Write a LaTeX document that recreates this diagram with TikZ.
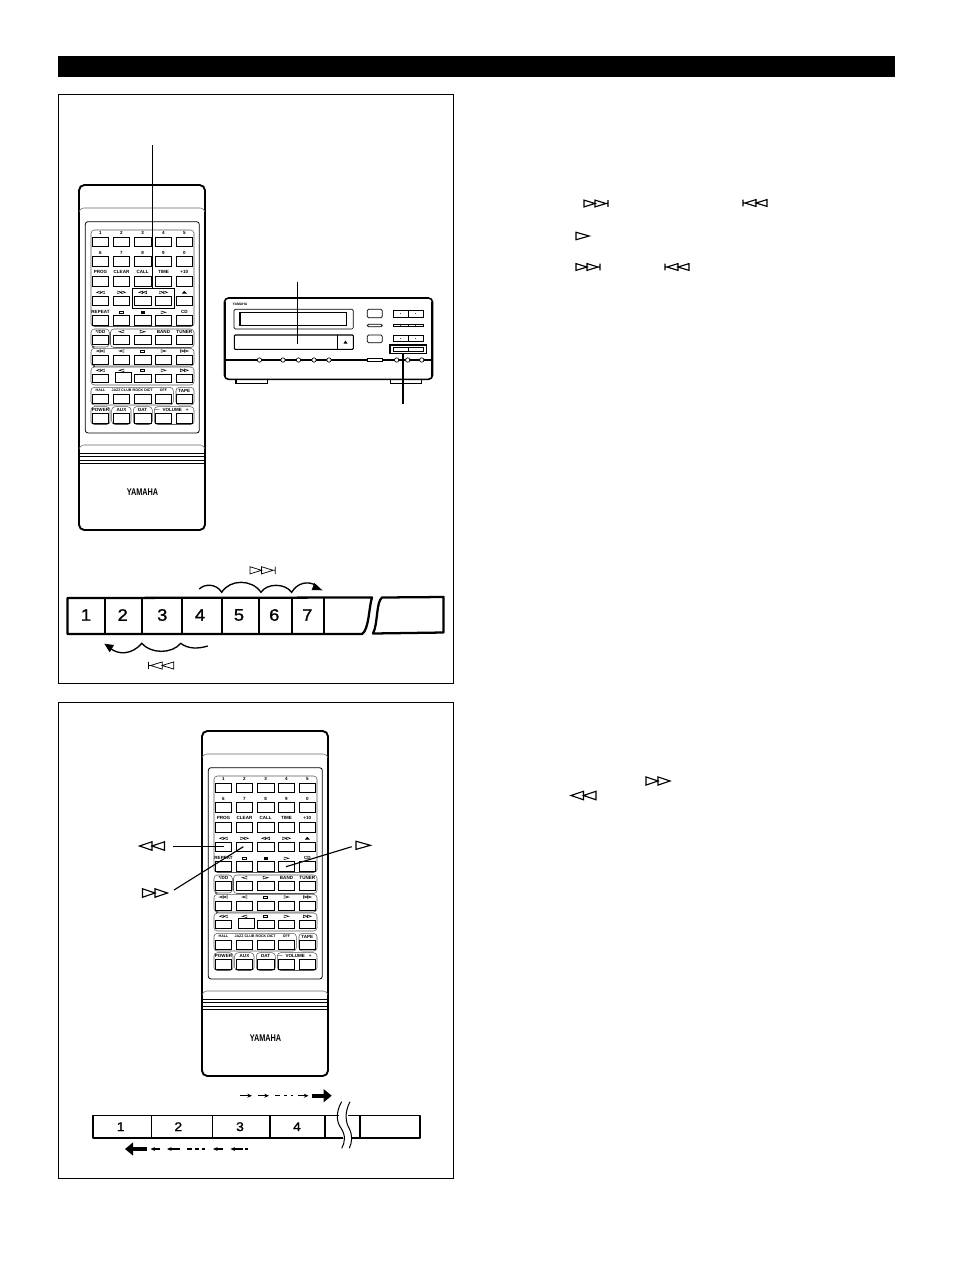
\documentclass[tikz,border=0pt]{standalone}
\usepackage{fontspec}
\setmainfont{Liberation Sans}
\newfontfamily\numfont[FakeBold=1.2]{Liberation Sans}
\usetikzlibrary{arrows.meta,calc}
\tikzset{
 x=0.75pt,y=-0.75pt,
 frame/.style={draw=black,line width=0.6pt},
 btn/.style={draw=black,line width=0.7pt,fill=white},
 lbl/.style={font=\fontsize{3.4}{4}\selectfont\bfseries,inner sep=0pt},
 lblsm/.style={font=\fontsize{2.7}{3}\selectfont\bfseries,inner sep=0pt},
 grp/.style={draw=black!65,line width=0.4pt,rounded corners=2.5pt},
 leader/.style={draw=black,line width=0.85pt},
 cell/.style={draw=black,line width=1.7pt},
 cellb/.style={draw=black,line width=1.2pt},
 cellc/.style={draw=black,line width=1pt},
 num/.style={font=\fontsize{12.5}{14}\numfont\selectfont,inner sep=0pt,xscale=1.1},
 numb/.style={font=\fontsize{9.5}{11}\numfont\selectfont,inner sep=0pt,xscale=1.1},
 sym/.style={draw=black,line width=0.85pt,line join=miter},
 wave/.style={draw=black,line width=1pt},
 mini/.style={line width=0.8pt,draw=black,-{Stealth[length=3.5pt,width=3pt]}},
 bigarr/.style={draw=black,line width=3pt,-{Triangle[length=6pt,width=9.5pt]}},
}
\newcommand{\symFF}[3]{\draw[sym,shift={(#1,#2)},scale=#3] (0,-3.4)--(10,0)--(0,3.4)--cycle (10,-3.4)--(20,0)--(10,3.4)--cycle;}
\newcommand{\symNext}[3]{\draw[sym,shift={(#1,#2)},scale=#3] (0,-3.4)--(11,0)--(0,3.4)--cycle (11,-3.4)--(22,0)--(11,3.4)--cycle (24,-3.4)--(24,3.4) (22,0)--(24,0);}
\newcommand{\symPrev}[3]{\draw[sym,shift={(#1,#2)},scale=#3] (0,-3.4)--(0,3.4) (2,0)--(0,0) (13,-3.4)--(2,0)--(13,3.4)--cycle (24,-3.4)--(13,0)--(24,3.4)--cycle;}
\newcommand{\symRew}[3]{\draw[sym,shift={(#1,#2)},scale=#3] (10,-3.4)--(0,0)--(10,3.4)--cycle (20,-3.4)--(10,0)--(20,3.4)--cycle;}
\newcommand{\symPlay}[3]{\draw[sym,shift={(#1,#2)},scale=#3] (0,-3.4)--(12,0)--(0,3.4)--cycle;}
\newcommand{\tiS}[2]{\draw[black,line width=0.35pt] (#1-2,#2-1.2) rectangle (#1+2,#2+1.2);}
\newcommand{\tiP}[2]{\draw[black,line width=0.35pt] (#1-2.5,#2-1.3)--(#1+2.5,#2)--(#1-2.5,#2+1.3)--cycle;}
\newcommand{\tiB}[2]{\draw[black,line width=0.35pt] (#1+2.5,#2-1.3)--(#1-2.5,#2)--(#1+2.5,#2+1.3)--cycle;}
\newcommand{\tiFF}[2]{\draw[black,line width=0.35pt] (#1-4,#2-1.3)--(#1,#2)--(#1-4,#2+1.3)--cycle (#1,#2-1.3)--(#1+4,#2)--(#1,#2+1.3)--cycle;}
\newcommand{\tiRW}[2]{\draw[black,line width=0.35pt] (#1,#2-1.3)--(#1-4,#2)--(#1,#2+1.3)--cycle (#1+4,#2-1.3)--(#1,#2)--(#1+4,#2+1.3)--cycle;}
\newcommand{\remote}[2]{%
\begin{scope}[shift={(#1,#2)}]
 \draw[black,line width=1.4pt,fill=white,rounded corners=4pt] (79,185) rectangle (205,530);
 \draw[black!60,line width=0.4pt,rounded corners=2pt] (79,212)--(81,208)--(203,208)--(205,212);
 \draw[black!60,line width=0.4pt,rounded corners=2pt] (79,449)--(81,445)--(203,445)--(205,449);
 \draw[black,line width=0.6pt,rounded corners=2pt] (85.3,221.7) rectangle (199.3,433);
 \draw[grp] (91,230) rectangle (194,326.5);
 \draw[grp] (91,329) rectangle (109.3,347);
 \draw[grp] (110.5,329) rectangle (194,347.5);
 \draw[grp] (91,348.3) rectangle (194,366);
 \draw[grp] (91,367) rectangle (194,385);
 \draw[grp] (91,387.3) rectangle (173.3,405);
 \draw[grp] (176,387.3) rectangle (194,405);
 \draw[grp] (91,406.7) rectangle (110,424.5);
 \draw[grp] (111.7,406.7) rectangle (131,424.5);
 \draw[grp] (133.3,406.7) rectangle (152.3,424.5);
 \draw[grp] (154.3,406.7) rectangle (194,424.5);
 \foreach \ya/\yb in {237.3/246,256.7/266,276.7/286,296.3/305.3,315.7/325.3,335.3/344.7,355/364,374/382.7,394/403.3,413.3/423.3}{
  \foreach \xa/\xb in {92.7/108.3,113.3/129.7,134.3/151,155.3/171.7,176.3/192.3}{
   \draw[btn] (\xa,\ya) rectangle (\xb,\yb);
  }}
 \fill[white] (112.5,372) rectangle (132,383.6);
 \draw[btn] (115,372.7) rectangle (131.7,382);
 \foreach \y/\a/\b/\c/\d/\e in {233.3/1/2/3/4/5,252.7/6/7/8/9/0,272.3/PROG/CLEAR/CALL/TIME/+10,312.3/REPEAT/{}/{}/{}/CD}{
  \node[lbl] at (100.5,\y) {\a};
  \node[lbl] at (121.5,\y) {\b};
  \node[lbl] at (142.7,\y) {\c};
  \node[lbl] at (163.5,\y) {\d};
  \node[lbl] at (184.3,\y) {\e};
 }
 \node[lbl] at (100.5,331.7) {*/DD};
 \node[lbl] at (163.5,331.7) {BAND};
 \node[lbl] at (184.3,331.7) {TUNER};
 \node[lblsm] at (93.5,347.7) {b};
 \node[lblsm] at (94,366.7) {a};
 \node[lblsm] at (100.5,390.7) {HALL};
 \node[lblsm] at (121.5,390.7) {JAZZ CLUB};
 \node[lblsm] at (142.7,390.7) {ROCK DICT};
 \node[lblsm] at (163.5,390.7) {OFF};
 \node[lbl] at (184.3,390.7) {TAPE};
 \node[lbl] at (100.5,410) {POWER};
 \node[lbl] at (121.5,410) {AUX};
 \node[lbl] at (142.7,410) {DAT};
 \node[lbl] at (157.3,410) {$-$};
 \node[lbl] at (172.3,410) {VOLUME};
 \node[lbl] at (187.3,410) {+};
 \tiRW{100.5}{292.3}\tiFF{121.5}{292.3}\tiRW{142.7}{292.3}\tiFF{163.5}{292.3}
 \fill[black] (181.8,293.5)--(184.3,290.8)--(186.8,293.5)--cycle;
 \tiS{121.5}{312.3}\fill[black] (140.7,310.8) rectangle (144.7,313.8);\tiP{163.5}{312.3}
 \tiB{121.5}{331.7}\tiP{142.7}{331.7}
 \tiRW{100.5}{351}\tiB{121.5}{351}\tiS{142.7}{351}\tiP{163.5}{351}\tiFF{184.3}{351}
 \tiRW{100.5}{370.3}\tiB{121.5}{370.3}\tiS{142.7}{370.3}\tiP{163.5}{370.3}\tiFF{184.3}{370.3}
 \foreach \y in {453.3,456.7,460,463.3}{
  \draw[line width=0.75pt,draw=black] (79,\y)--(205,\y);
 }
 \node[inner sep=0pt,font=\fontsize{7.3}{8}\selectfont\bfseries,xscale=0.75] at (142.5,492) {YAMAHA};
\end{scope}}
\begin{document}
\begin{tikzpicture}
\useasboundingbox[fill=white] (0,0) rectangle (954,1272);
\fill[black] (58,56) rectangle (895,76.5);
\draw[frame] (58.5,94) rectangle (453.5,683);
\draw[frame] (58.5,702) rectangle (453.5,1178);

\remote{0}{0}
\remote{123}{546}

\draw[black,line width=1.2pt] (132.3,288.3) rectangle (174.3,308.3);
\coordinate (topA) at (152.5,145);
\coordinate (topB) at (152.5,288.3);
\draw[leader] (topA)--(topB);

% CD player
\draw[black,line width=1.2pt,fill=white,rounded corners=3pt] (224.5,298) rectangle (432.5,379.3);
\draw[black,line width=1pt] (225.5,302)--(225.5,376) (431.5,302)--(431.5,376);
\draw[black,line width=0.5pt,rounded corners=1pt] (234,309.3) rectangle (353.3,329);
\draw[black,line width=1pt] (240,312.7) rectangle (346.7,325.7);
\draw[black,line width=0.8pt,rounded corners=0.7pt] (234.3,335) rectangle (353.3,349.3);
\draw[black,line width=0.9pt] (337.3,335)--(337.3,349.3);
\fill[black] (343.5,343.5)--(345.5,340.5)--(347.5,343.5)--cycle;
\node[inner sep=0pt,font=\fontsize{2.6}{3}\selectfont\bfseries] at (240,304.7) {YAMAHA};
\draw[black,line width=0.5pt,rounded corners=1pt] (367.3,309.3) rectangle (382.3,317.7);
\draw[black,line width=0.5pt,rounded corners=1pt] (367.3,324.3) rectangle (382.3,326.7);
\draw[black,line width=0.5pt,rounded corners=1pt] (367.3,335) rectangle (382.3,342.7);
\foreach \y/\h in {310/7.3,324/2.7,335/6.7}{
 \draw[black,line width=0.6pt] (393.3,\y) rectangle (408.3,\y+\h);
 \draw[black,line width=0.6pt] (408.3,\y) rectangle (423.3,\y+\h);
 \fill[black!70] (400.3,\y+0.5*\h-0.7) rectangle (401.3,\y+0.5*\h+0.7);
 \fill[black!70] (415.3,\y+0.5*\h-0.7) rectangle (416.3,\y+0.5*\h+0.7);
}
\draw[black,line width=0.5pt] (393.3,347.3) rectangle (408.3,351);
\draw[black,line width=0.5pt] (408.3,347.3) rectangle (423.3,351);
\draw[black,line width=1.1pt] (390,345) rectangle (426.7,353.7);
\draw[black,line width=1.1pt] (224.5,360)--(367,360) (382,360)--(432.5,360);
\draw[black,line width=0.5pt,fill=white] (367,358.3) rectangle (382,361.3);
\foreach \x in {259.5,283,298.5,314,329,396.7,407.7,421.7}{
 \draw[black,line width=0.5pt,fill=white] (\x,360) circle (2.2);
}
\draw[black,line width=0.9pt] (236,379)--(236,383.5)--(267.5,383.5)--(267.5,379);
\draw[black,line width=0.9pt] (390.5,379)--(390.5,383.5)--(421.5,383.5)--(421.5,379);
\coordinate (cdA) at (297.5,282);
\coordinate (cdB) at (297.5,344);
\draw[leader] (cdA)--(cdB);
\coordinate (cdC) at (403,354);
\coordinate (cdD) at (403,404);
\draw[leader] (cdC)--(cdD);

% first strip
\draw[cell,line join=round] (372,597.5) .. controls (369,606) and (369,630) .. (362,634)-- (67.5,634)--(67.5,598)--cycle;
\draw[cell,line join=round] (373,633.5) .. controls (378,624) and (376,602) .. (382,597.5)--(443.5,597)--(443.5,632.5)--cycle;
\foreach \x in {105,141.7,181.7,221.7,259,292,324}{\draw[cellb] (\x,598)--(\x,634);}
\foreach \x/\t in {86/1,122.7/2,162.3/3,200/4,239/5,274.3/6,307.3/7}{\node[num] at (\x,615) {\t};}
\draw[wave] (199.3,589) .. controls (204,584) and (216,583) .. (221.7,592.3) .. controls (230,579) and (252,579) .. (261,592.3) .. controls (267,583) and (285,583) .. (291.7,592.3) .. controls (297,583) and (308,580) .. (317,586);
\fill[black] (322.5,590.3)--(311.7,590)--(314.3,583)--cycle;
\draw[wave] (207.7,646) .. controls (198,649) and (188,649) .. (180.7,643.3) .. controls (172,654) and (151,654) .. (141.7,643.3) .. controls (132,655) and (118,655) .. (110,648);
\fill[black] (104.3,643.7)--(114,645)--(109.7,652.3)--cycle;
\begin{scope}[sym/.append style={line width=0.55pt}]
\symNext{250}{570.3}{1.05}
\symPrev{148.5}{665.5}{1.05}
\end{scope}

% symbols in the text column
\symNext{584}{203.5}{1}
\symPrev{743}{203}{1}
\symPlay{576}{236}{1.1}
\symNext{576}{267}{1}
\symPrev{665}{267}{1}
\symFF{646}{781}{1.2}
\symRew{571}{795.5}{1.25}

% second panel
\symRew{139.5}{846}{1.25}
\coordinate (lA) at (173.3,846.7);
\coordinate (lB) at (224.3,846.7);
\draw[leader] (lA)--(lB);
\symFF{142.5}{893}{1.25}
\coordinate (lC) at (174,890);
\coordinate (lD) at (243.3,846.7);
\draw[leader] (lC)--(lD);
\symPlay{356}{845.3}{1.2}
\coordinate (lE) at (351.7,846.7);
\coordinate (lF) at (286,866.7);
\draw[leader] (lE)--(lF);

% second strip
\draw[cell,line width=1.4pt,line join=round] (93.3,1115.5) rectangle (420,1138);
\foreach \x in {151.7,212.3,270,325,360}{\draw[cellc] (\x,1115.5)--(\x,1138);}
\fill[white] (338.5,1112) -- (347.5,1112) -- (352,1142) -- (344,1142) -- cycle;
\draw[black,line width=0.75pt] (341.7,1101.7) .. controls (335,1113) and (337,1123) .. (341,1128) .. controls (346,1136) and (345,1142) .. (341.7,1148.3);
\draw[black,line width=0.75pt] (350,1101.7) .. controls (344,1113) and (346,1123) .. (349,1128) .. controls (353,1136) and (352,1142) .. (349.3,1148.3);
\node[numb] at (120.7,1126.7) {1};
\node[numb] at (178.3,1126.7) {2};
\node[numb] at (240,1126.7) {3};
\node[numb] at (297,1126.7) {4};
\draw[mini] (240,1095.7)--(252,1095.7);
\draw[mini] (258,1095.7)--(269,1095.7);
\draw[line width=0.8pt,draw=black] (275,1095.7)--(280,1095.7) (284,1095.7)--(286.5,1095.7) (290.5,1095.7)--(293,1095.7);
\draw[mini] (298,1095.7)--(308.5,1095.7);
\draw[bigarr] (311.7,1095.7)--(331.7,1095.7);
\draw[line width=0.8pt,draw=black] (248,1149)--(245,1149);
\draw[mini] (243,1149)--(230.5,1149);
\draw[mini] (223,1149)--(213,1149);
\draw[line width=0.8pt,draw=black] (205,1149)--(201.5,1149) (198.5,1149)--(195,1149) (191.5,1149)--(186.5,1149);
\draw[mini] (180,1149)--(167,1149);
\draw[mini] (160,1149)--(150.5,1149);
\draw[bigarr] (146.7,1149)--(125,1149);
\end{tikzpicture}
\end{document}
